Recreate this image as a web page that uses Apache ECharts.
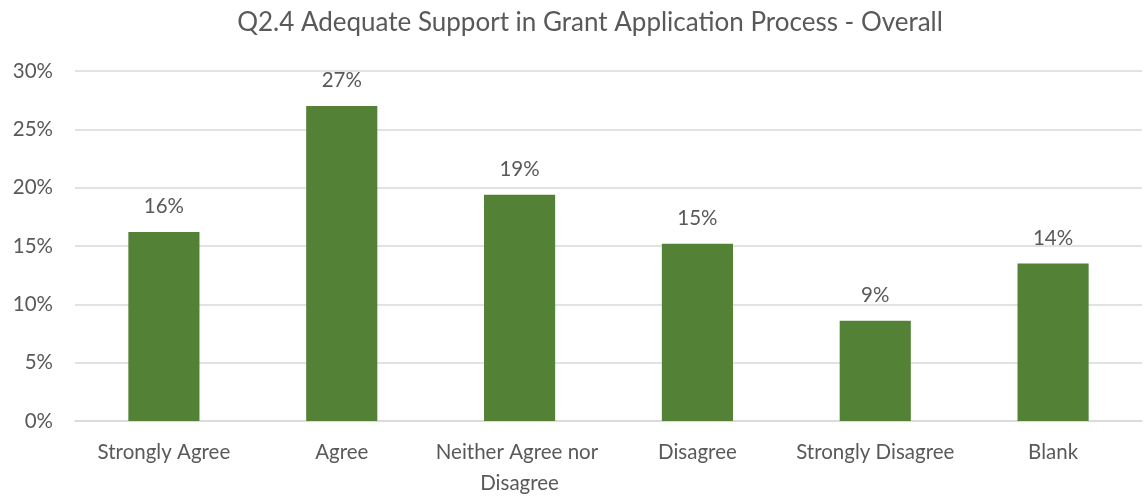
<!DOCTYPE html>
<html>
<head>
<meta charset="utf-8">
<script src="https://cdn.jsdelivr.net/npm/echarts@6/dist/echarts.min.js"></script>
<style>
  html, body { margin: 0; padding: 0; background: #fff; }
  #chart { width: 1144px; height: 496px; }
</style>
</head>
<body>
<div id="chart"></div>
<script>
// Survey responses: share of respondents per answer (percent)
const categories = ['Strongly Agree', 'Agree', 'Neither Agree nor Disagree', 'Disagree', 'Strongly Disagree', 'Blank'];
const shares = [16.2, 27.0, 19.4, 15.2, 8.6, 13.5];
const yTicks = [0, 5, 10, 15, 20, 25, 30];

const FONT = 'Lato, "Open Sans", sans-serif';
const TEXT = '#595959';

const chart = echarts.init(document.getElementById('chart'));
chart.setOption({
  animation: false,
  title: {
    text: 'Q2.4 Adequate Support in Grant Application Process - Overall',
    left: 585,
    textAlign: 'center',
    top: 5,
    textStyle: { fontFamily: FONT, fontSize: 26, fontWeight: 'normal', color: TEXT }
  },
  grid: { left: 75, right: 2, top: 71, bottom: 75, outerBoundsMode: 'none', containLabel: false },
  xAxis: {
    type: 'category',
    data: categories,
    axisLine: { lineStyle: { color: '#d9d9d9', width: 1.5 } },
    axisTick: { show: false },
    axisLabel: {
      fontFamily: FONT, fontSize: 20.5, color: TEXT, margin: 16,
      lineHeight: 31, width: 176, overflow: 'break', interval: 0
    }
  },
  yAxis: {
    type: 'value',
    min: yTicks[0],
    max: yTicks[yTicks.length - 1],
    interval: 5,
    axisLine: { show: false },
    axisTick: { show: false },
    splitLine: { lineStyle: { color: '#d9d9d9', width: 1.5 } },
    axisLabel: {
      fontFamily: FONT, fontSize: 20.5, color: TEXT, margin: 22,
      formatter: v => v + '%'
    }
  },
  series: [{
    type: 'bar',
    data: shares,
    barWidth: '40%',
    itemStyle: { color: '#538135' },
    label: {
      show: true,
      position: 'top',
      distance: 15,
      fontFamily: FONT, fontSize: 20.5, color: TEXT,
      formatter: p => Math.round(p.value) + '%'
    }
  }]
});
</script>
</body>
</html>
